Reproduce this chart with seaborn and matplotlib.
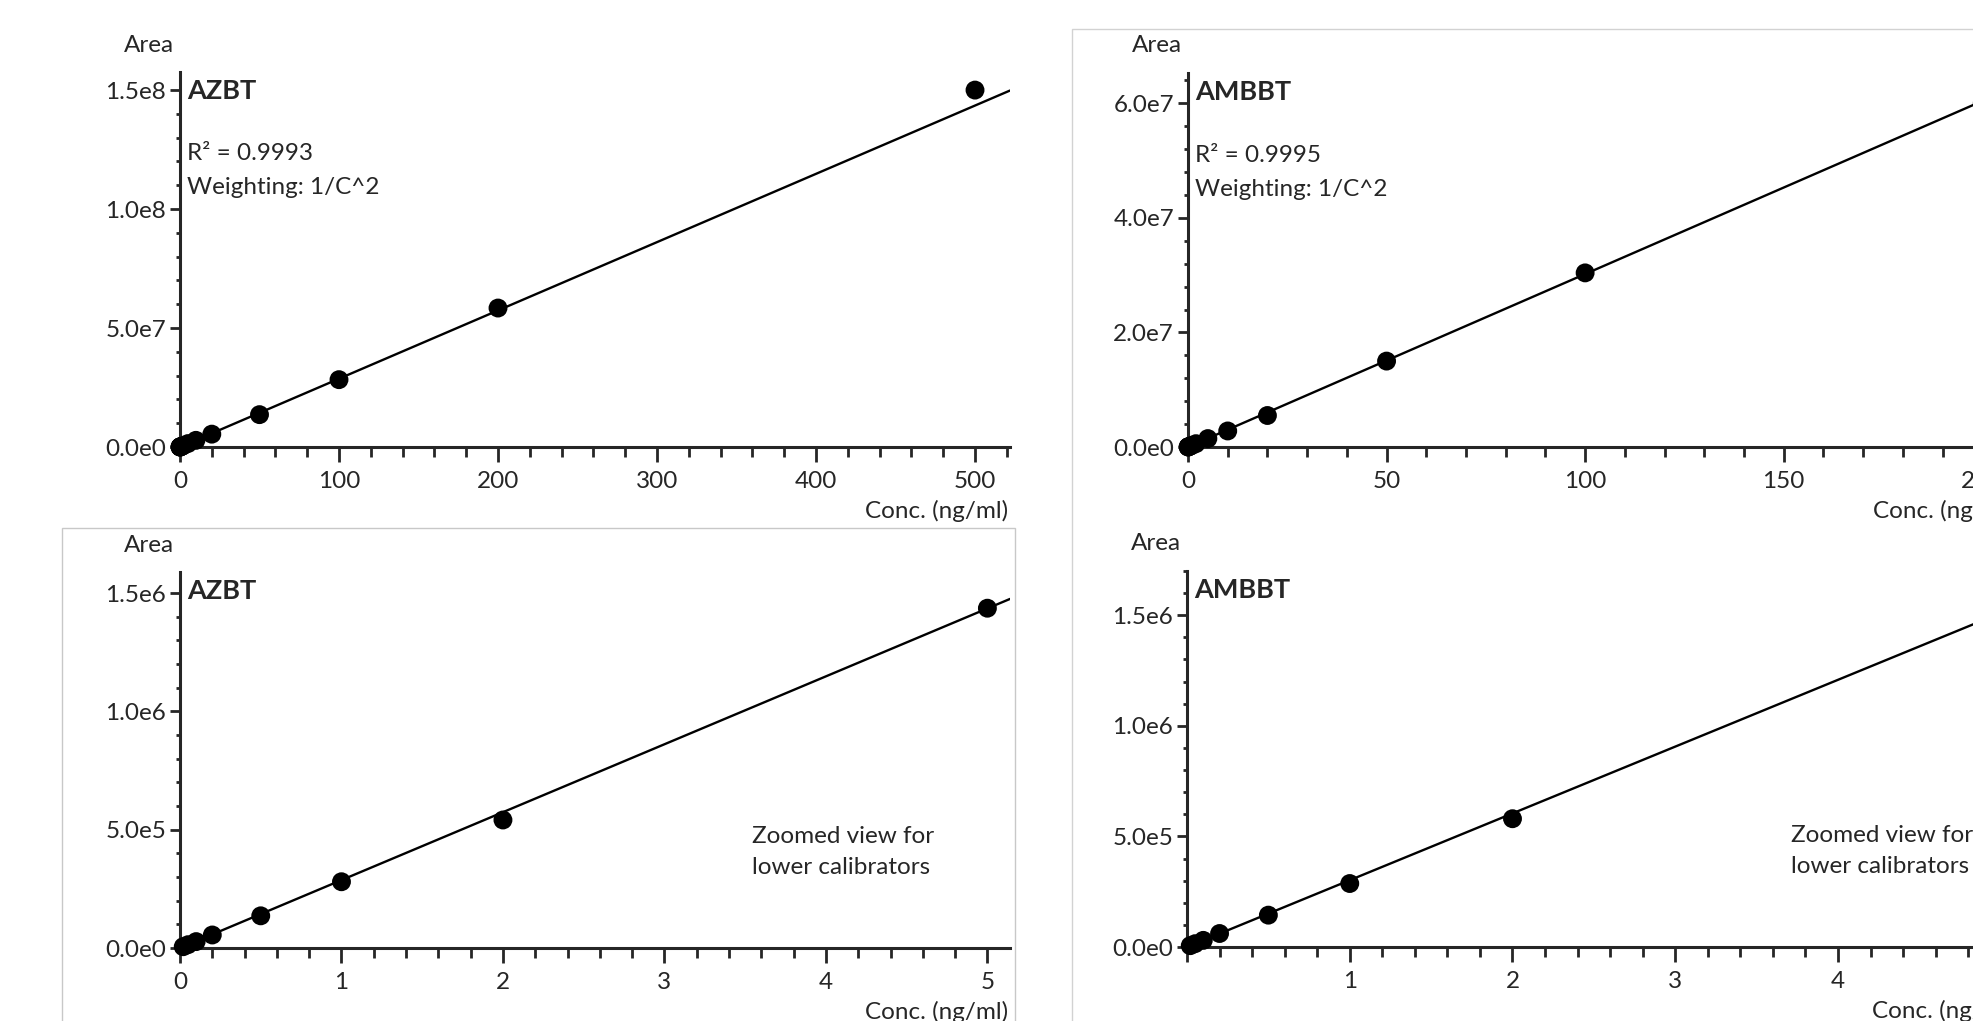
import numpy as np
import pandas as pd
import matplotlib
matplotlib.use("Agg")
import matplotlib.pyplot as plt
from matplotlib.ticker import MultipleLocator, FuncFormatter
import seaborn as sns

# calibrator concentrations (ng/ml) and peak areas
azbt_conc = [0.02, 0.05, 0.1, 0.2, 0.5, 1, 2, 5, 10, 20, 50, 100, 200, 500]
azbt_area = [5.5e3, 1.4e4, 2.7e4, 5.5e4, 1.36e5, 2.80e5, 5.41e5, 1.436e6,
             2.8e6, 5.4e6, 1.36e7, 2.83e7, 5.84e7, 1.50e8]
ambbt_conc = [0.02, 0.05, 0.1, 0.2, 0.5, 1, 2, 5, 10, 20, 50, 100, 200]
ambbt_area = [6.0e3, 1.5e4, 3.0e4, 6.1e4, 1.44e5, 2.87e5, 5.80e5, 1.47e6,
              2.8e6, 5.5e6, 1.50e7, 3.04e7, 6.0e7]

# weighted (1/C^2) linear fits shown on the chart
azbt_slope, azbt_intercept = 2.87e5, 0.0
ambbt_slope, ambbt_intercept = 3.02e5, 0.0
azbt_r2 = "0.9993"
ambbt_r2 = "0.9995"
weighting = "1/C^2"

sns.set_style("ticks")
plt.rcParams["font.family"] = ["Lato", "DejaVu Sans"]
FS = 17.5

W, H = 1973, 1021
fig = plt.figure(figsize=(W / 100, H / 100), dpi=100)


def px_axes(left, top, right, bottom):
    return fig.add_axes([left / W, 1 - bottom / H, (right - left) / W, (bottom - top) / H])


def sci_fmt(v, pos):
    m, e = f"{v:.1e}".split("e")
    return f"{m}e{int(e)}"


def panel(ax, conc, area, slope, intercept, name, xmax, ymax, xmaj, xmin_, ymaj, ymin_,
          r2=None, zoom=False, hide_zero=False):
    xs = np.array([0, xmax])
    fit = pd.DataFrame({"x": xs, "y": slope * xs + intercept})
    sns.lineplot(data=fit, x="x", y="y", ax=ax, color="black", lw=1.7)
    sns.scatterplot(x=conc, y=area, ax=ax, color="black", s=185, edgecolor="none",
                    clip_on=False, zorder=5)
    ax.set_xlim(0, xmax)
    ax.set_ylim(0, ymax)
    ax.set_xlabel("")
    ax.set_ylabel("")
    sns.despine(ax=ax)
    for s in ["left", "bottom"]:
        ax.spines[s].set_linewidth(2.2)
    ax.xaxis.set_major_locator(MultipleLocator(xmaj))
    ax.xaxis.set_minor_locator(MultipleLocator(xmin_))
    ax.yaxis.set_major_locator(MultipleLocator(ymaj))
    ax.yaxis.set_minor_locator(MultipleLocator(ymin_))
    ax.yaxis.set_major_formatter(FuncFormatter(sci_fmt))
    if hide_zero:
        ax.xaxis.set_major_formatter(FuncFormatter(lambda v, p: "" if v == 0 else f"{v:g}"))
    ax.tick_params(axis="x", which="major", length=11, width=2, pad=6, labelsize=FS)
    ax.tick_params(axis="x", which="minor", length=7, width=2)
    ax.tick_params(axis="y", which="major", length=7, width=2, pad=3, labelsize=FS)
    ax.tick_params(axis="y", which="minor", length=3, width=2)

    ax.annotate("Area", xy=(0, 1), xycoords="axes fraction", xytext=(-31, 27),
                textcoords="offset pixels", ha="center", va="center", fontsize=FS)
    ax.annotate(name, xy=(0, 1), xycoords="axes fraction", xytext=(7, -19),
                textcoords="offset pixels", ha="left", va="center", fontsize=19.5,
                fontweight="bold")
    ax.annotate("Conc. (ng/ml)", xy=(1, 0), xycoords="axes fraction", xytext=(-2, -64),
                textcoords="offset pixels", ha="right", va="center", fontsize=FS)
    if r2 is not None:
        ax.annotate(f"R² = {r2}", xy=(0, 1), xycoords="axes fraction", xytext=(7, -82),
                    textcoords="offset pixels", ha="left", va="center", fontsize=FS)
        ax.annotate(f"Weighting: {weighting}", xy=(0, 1), xycoords="axes fraction",
                    xytext=(7, -116), textcoords="offset pixels", ha="left", va="center",
                    fontsize=FS)
    if zoom:
        ax.text(zoom, 0.297, "Zoomed view for", transform=ax.transAxes, ha="left",
                va="center", fontsize=FS)
        ax.text(zoom, 0.213, "lower calibrators", transform=ax.transAxes, ha="left",
                va="center", fontsize=FS)


# light grey frames around two of the graphs
fig.add_artist(plt.Rectangle((1072 / W, -0.1), 1, 1.1 - 29 / H, transform=fig.transFigure,
                             fill=False, ec="#d2d2d2", lw=1))
fig.add_artist(plt.Rectangle((62 / W, -0.1), (1015 - 62) / W, 1.1 - 528 / H,
                             transform=fig.transFigure, fill=False, ec="#c8c8c8", lw=1))

ax1 = px_axes(180, 72, 1010, 447)
panel(ax1, azbt_conc, azbt_area, azbt_slope, azbt_intercept, "AZBT", 522, 1.576e8,
      100, 20, 5e7, 1e7, r2=azbt_r2)

ax2 = px_axes(1188, 73, 2018, 447)
panel(ax2, ambbt_conc, ambbt_area, ambbt_slope, ambbt_intercept, "AMBBT", 209, 6.53e7,
      50, 10, 2e7, 4e6, r2=ambbt_r2)

ax3 = px_axes(180, 572, 1010, 948)
low = [i for i, c in enumerate(azbt_conc) if c <= 5]
panel(ax3, [azbt_conc[i] for i in low], [azbt_area[i] for i in low], azbt_slope,
      azbt_intercept, "AZBT", 5.14, 1.589e6, 1, 0.2, 5e5, 1e5, zoom=0.689)

ax4 = px_axes(1187, 571, 2017, 947)
low = [i for i, c in enumerate(ambbt_conc) if c <= 5]
panel(ax4, [ambbt_conc[i] for i in low], [ambbt_area[i] for i in low], ambbt_slope,
      ambbt_intercept, "AMBBT", 5.10, 1.7e6, 1, 0.2, 5e5, 1e5, zoom=0.728, hide_zero=True)

fig.savefig("out.png", dpi=100)
